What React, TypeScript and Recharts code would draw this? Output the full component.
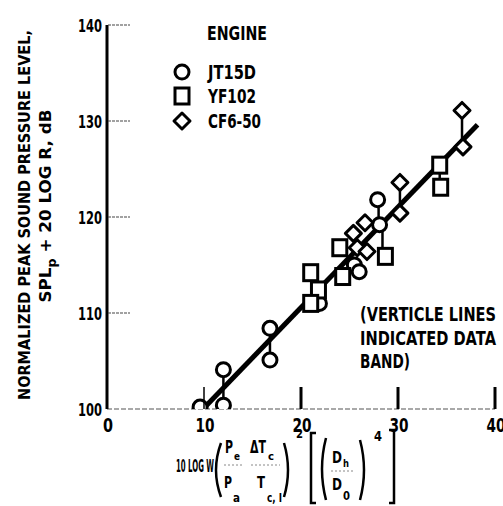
import React from 'react';
import {
  ComposedChart, Scatter, XAxis, YAxis, ReferenceLine, Customized,
} from 'recharts';

const xTicks = [0, 10, 20, 30, 40];
const yTicks = [100, 110, 120, 130, 140];

const jt15dX = [9.6, 12.0, 12.0, 16.8, 16.8, 21.9, 25.5, 26.0, 27.9, 28.1];
const jt15dY = [100.2, 100.4, 104.1, 108.4, 105.1, 111.0, 115.0, 114.3, 121.8, 119.2];

const yf102X = [21.0, 21.8, 21.0, 24.0, 24.3, 28.7, 34.3, 34.4];
const yf102Y = [114.2, 112.4, 111.0, 116.8, 113.8, 115.9, 125.4, 123.1];

const cf650X = [25.4, 26.6, 25.8, 26.8, 30.2, 30.2, 36.6, 36.7];
const cf650Y = [118.3, 119.4, 116.8, 116.4, 123.6, 120.4, 131.1, 127.3];

// vertical data-band lines: x, low, high
const bandX = [12.0, 16.8, 28.0, 28.4, 21.2, 34.3, 36.6, 30.2];
const bandLo = [100.4, 105.1, 119.2, 115.9, 111.0, 123.1, 127.3, 120.4];
const bandHi = [104.1, 108.4, 121.8, 119.2, 114.2, 125.4, 131.1, 123.6];

const fitX = [10.1, 38.2];
const fitY = [100.2, 129.6];

const engines = ['JT15D', 'YF102', 'CF6-50'];

const FONT = "'DejaVu Sans', sans-serif";

const pts = (xs: number[], ys: number[]) => xs.map((x, i) => ({ x, y: ys[i] }));
const jt15d = pts(jt15dX, jt15dY);
const yf102 = pts(yf102X, yf102Y);
const cf650 = pts(cf650X, cf650Y);
const fit = pts(fitX, fitY);

const Circ = ({ cx, cy }: any) => (
  <circle cx={cx} cy={cy} r={7} fill="#fff" stroke="#000" strokeWidth={3} />
);
const Sq = ({ cx, cy }: any) => (
  <rect x={cx - 7} y={cy - 8} width={14} height={16} fill="#fff" stroke="#000" strokeWidth={3} />
);
const Dia = ({ cx, cy }: any) => (
  <polygon
    points={`${cx},${cy - 8} ${cx + 8},${cy} ${cx},${cy + 8} ${cx - 8},${cy}`}
    fill="#fff" stroke="#000" strokeWidth={3} strokeLinejoin="round"
  />
);
const shapes = [Circ, Sq, Dia];

// condensed bold text: squeeze to the width seen in the picture
function T({ x, y, w, size, anchor = 'start', children, transform }: any) {
  return (
    <text
      x={x} y={y} transform={transform} textAnchor={anchor} fontSize={size}
      fontFamily={FONT} fontWeight={700} fill="#000"
      textLength={w} lengthAdjust="spacingAndGlyphs"
    >
      {children}
    </text>
  );
}

function YTick({ x, y, payload }: any) {
  const v = payload.value;
  return (
    <g>
      {v !== 100 && (
        <line x1={x + 1} x2={x + 23} y1={y} y2={y} stroke="#444" strokeWidth={1.2} strokeDasharray="3 1" />
      )}
      <T x={x - 5} y={y + 7} w={24} size={18} anchor="end">{v}</T>
    </g>
  );
}

function XTick({ x, y, payload }: any) {
  const v = payload.value;
  return (
    <g>
      {v !== 0 && (
        <line x1={x} x2={x} y1={y} y2={y - 22} stroke="#000" strokeWidth={v === 10 ? 1.5 : 3} />
      )}
      <T x={x + 1} y={y + 23} w={v === 0 ? 10 : 19} size={20} anchor="middle">{v}</T>
    </g>
  );
}

function YLabel() {
  return (
    <g>
      <T transform="translate(30,215) rotate(-90)" x={0} y={0} w={370} size={16} anchor="middle">
        NORMALIZED PEAK SOUND PRESSURE LEVEL,
      </T>
      <text
        transform="translate(51,206) rotate(-90)" textAnchor="middle" fontSize={16}
        fontFamily={FONT} fontWeight={700} fill="#000"
        textLength={193} lengthAdjust="spacingAndGlyphs"
      >
        SPL<tspan dy={5} fontSize={12}>p</tspan><tspan dy={-5}> + 20 LOG R, dB</tspan>
      </text>
    </g>
  );
}

function XLabel() {
  const br = (x1: number, x0: number, y1: number, y2: number) =>
    `M${x1},${y1} Q${x0},${(y1 + y2) / 2} ${x1},${y2}`;
  const dash = { stroke: '#888', strokeWidth: 1, strokeDasharray: '2 2' };
  return (
    <g>
      <T x={176} y={472} w={38} size={18}>10 LOG W</T>
      <path d={br(221, 211, 443, 497)} fill="none" stroke="#000" strokeWidth={2.5} />
      <T x={225} y={453} w={8} size={17}>P</T>
      <T x={234} y={460} w={6} size={11}>e</T>
      <line x1={224} x2={244} y1={465} y2={465} {...dash} />
      <T x={224} y={488} w={8} size={15}>P</T>
      <T x={233} y={502} w={7} size={12}>a</T>
      <T x={250} y={453} w={16} size={17}>ΔT</T>
      <T x={268} y={460} w={6} size={11}>c</T>
      <line x1={251} x2={280} y1={465} y2={465} {...dash} />
      <T x={257} y={488} w={8} size={15}>T</T>
      <T x={267} y={502} w={15} size={12}>c, I</T>
      <path d={br(284, 292, 443, 497)} fill="none" stroke="#000" strokeWidth={2.5} />
      <T x={296} y={438} w={7} size={13}>2</T>
      <path d="M316,433 L311,433 L311,503 L316,503" fill="none" stroke="#000" strokeWidth={2.5} />
      <path d={br(326, 318, 438, 500)} fill="none" stroke="#000" strokeWidth={2.5} />
      <T x={332} y={463} w={10} size={16}>D</T>
      <T x={343} y={467} w={6} size={11}>h</T>
      <line x1={331} x2={353} y1={471} y2={471} {...dash} />
      <T x={332} y={490} w={10} size={16}>D</T>
      <T x={343} y={500} w={7} size={12}>0</T>
      <path d={br(360, 368, 440, 500)} fill="none" stroke="#000" strokeWidth={2.5} />
      <T x={374} y={441} w={8} size={14}>4</T>
      <path d="M389,430 L394,430 L394,503 L389,503" fill="none" stroke="#000" strokeWidth={2.5} />
    </g>
  );
}

function Notes() {
  return (
    <g>
      <T x={207} y={40} w={60} size={19}>ENGINE</T>
      {engines.map((name, i) => {
        const Shape = shapes[i];
        const cy = [72, 96, 121][i];
        return (
          <g key={name}>
            <Shape cx={182} cy={cy} />
            <T x={208} y={cy + 7} w={i === 2 ? 53 : 48} size={19}>{name}</T>
          </g>
        );
      })}
      <T x={360} y={321} w={136} size={19}>(VERTICLE LINES</T>
      <T x={360} y={345} w={136} size={19}>INDICATED DATA</T>
      <T x={360} y={368} w={50} size={19}>BAND)</T>
      <YLabel />
      <XLabel />
    </g>
  );
}

export default function App() {
  return (
    <div style={{ position: 'absolute', left: 0, top: 0, width: 503, height: 506, background: '#fff' }}>
      <ComposedChart width={503} height={506} margin={{ top: 25, right: 8, bottom: 0, left: 0 }}>
        <XAxis
          type="number" dataKey="x" domain={[0, 40]} ticks={xTicks} height={97}
          tickSize={0} tickMargin={0} tickLine={false} tick={<XTick />}
          axisLine={{ stroke: '#555', strokeWidth: 1.2, strokeDasharray: '5 2' }}
          allowDataOverflow
        />
        <YAxis
          type="number" dataKey="y" domain={[100, 140]} ticks={yTicks} width={107}
          tickSize={0} tickMargin={0} tickLine={false} tick={<YTick />}
          axisLine={{ stroke: '#000', strokeWidth: 3 }}
          allowDataOverflow
        />
        {bandX.map((x, i) => (
          <ReferenceLine
            key={i} ifOverflow="visible"
            segment={[{ x, y: bandLo[i] }, { x, y: bandHi[i] }]}
            stroke="#000" strokeWidth={2.5}
          />
        ))}
        <Scatter
          data={fit} isAnimationActive={false} shape={() => null}
          line={{ stroke: '#000', strokeWidth: 5 }}
        />
        <Scatter data={jt15d} isAnimationActive={false} shape={<Circ />} />
        <Scatter data={yf102} isAnimationActive={false} shape={<Sq />} />
        <Scatter data={cf650} isAnimationActive={false} shape={<Dia />} />
        <Customized component={<Notes />} />
      </ComposedChart>
    </div>
  );
}
